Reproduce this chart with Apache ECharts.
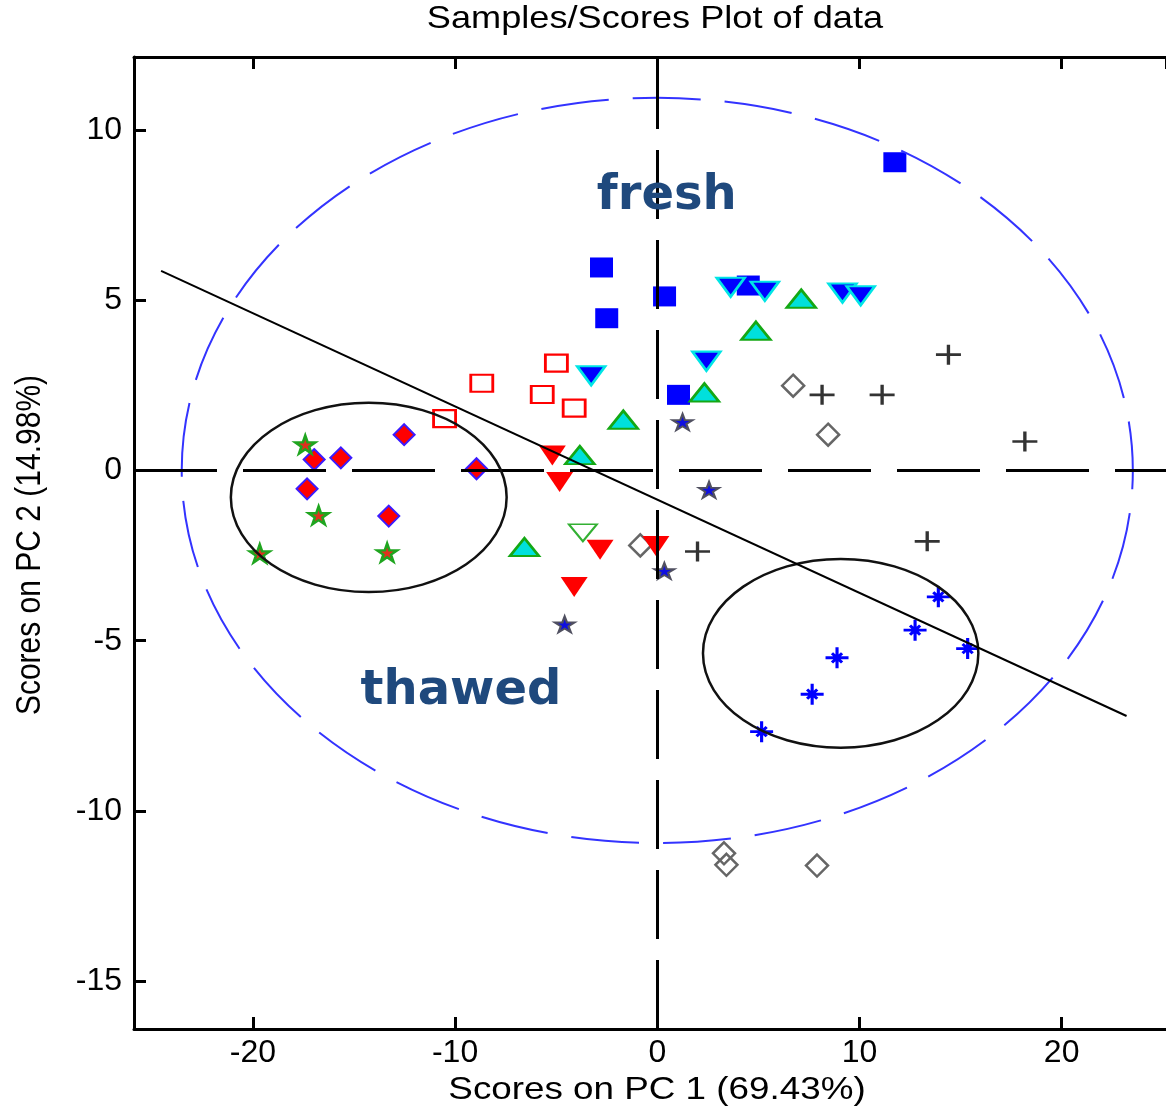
<!DOCTYPE html>
<html>
<head>
<meta charset="utf-8">
<title>Samples/Scores Plot of data</title>
<script src="https://cdn.jsdelivr.net/npm/echarts@6.0.0/dist/echarts.min.js"></script>
<style>
  html, body { margin: 0; padding: 0; background: #fff; }
  #chart { width: 1166px; height: 1108px; }
</style>
</head>
<body>
<div id="chart"></div>
<script>
// axis extents (PC1 / PC2 scores)
var xRange = [-25.88, 25.16];
var yRange = [-16.40, 12.14];

// sample scores, one array per marker group [PC1, PC2]
var redDiamonds = [[-12.52, 1.05], [-16.97, 0.32], [-15.65, 0.37], [-8.94, 0.05], [-17.32, -0.54], [-13.28, -1.34]];
var greenStars = [[-17.41, 0.76], [-16.75, -1.32], [-19.66, -2.44], [-13.36, -2.41]];
var redOpenSquares = [[-4.99, 3.15], [-8.68, 2.56], [-5.69, 2.23], [-4.11, 1.83], [-10.52, 1.52]];
var blueSquares = [[-2.76, 5.96], [0.36, 5.11], [-2.5, 4.47], [1.05, 2.22], [11.75, 9.05], [4.5, 5.43]];
var blueDownTriangles = [[-3.27, 2.78], [2.43, 3.21], [3.63, 5.38], [5.32, 5.26], [9.16, 5.21], [10.06, 5.13]];
var cyanUpTriangles = [[-1.68, 1.49], [2.33, 2.29], [7.12, 5.04], [4.88, 4.1], [-3.83, 0.45], [-6.57, -2.25]];
var redDownTriangles = [[-5.19, 0.44], [-4.83, -0.34], [-2.83, -2.33], [-4.11, -3.42], [-0.07, -2.22]];
var greenOpenTriangles = [[-3.68, -1.83]];
var blueStars = [[1.25, 1.42], [2.56, -0.57], [0.35, -2.95], [-4.58, -4.52]];
var grayDiamonds = [[-0.84, -2.2], [6.72, 2.49], [8.45, 1.05], [3.3, -11.24], [3.42, -11.58], [7.9, -11.6]];
var plusMarks = [[1.99, -2.38], [14.4, 3.4], [8.15, 2.22], [11.12, 2.22], [18.18, 0.85], [13.35, -2.08]];
var blueAsterisks = [[13.9, -3.71], [12.75, -4.69], [15.35, -5.23], [8.89, -5.5], [7.66, -6.57], [5.16, -7.67]];

// separating line (two end points)
var boundaryLine = [[-24.54, 5.86], [23.21, -7.21]];
// ellipses [cx, cy, rx, ry]
var confidenceEllipse = [[0, 0, 23.52, 10.94]];
var clusterEllipses = [[-14.27, -0.79, 6.82, 2.78], [9.07, -5.37, 6.81, 2.77]];
// group annotations
var labelText = ['fresh', 'thawed'];
var labelPos = [[0.47, 8.03], [-9.71, -6.48]];

var FONT = 'Liberation Sans';
var pathStar = 'path://M50,0L61.2,34.5L97.6,34.5L68.2,55.9L79.4,90.5L50,69.1L20.6,90.5L31.8,55.9L2.4,34.5L38.8,34.5Z';
var pathDown = 'path://M0,0L100,0L50,100Z';
var pathPlus = 'path://M0,50L100,50M50,0L50,100';
var pathAsterisk = 'path://M0,50L100,50M50,0L50,100M28,28L72,72M28,72L72,28';

function scatter(data, symbol, size, itemStyle) {
  itemStyle.opacity = 1;
  return {
    type: 'scatter', data: data, symbol: symbol, symbolSize: size,
    itemStyle: itemStyle, silent: true, z: 2
  };
}

function ellipseItem(style) {
  return function (params, api) {
    var c = api.coord([api.value(0), api.value(1)]);
    var s = api.size([api.value(2), api.value(3)]);
    return {
      type: 'ellipse',
      shape: { cx: c[0], cy: c[1], rx: s[0], ry: s[1] },
      style: style
    };
  };
}

function tickLabel(v) {
  return Math.abs(v % 5) < 1e-6 ? String(v) : '';
}

var axisCommon = {
  type: 'value',
  splitNumber: 5,
  axisLine: { show: true, onZero: false, lineStyle: { color: '#000', width: 3 } },
  axisTick: { show: true, inside: true, length: 12, lineStyle: { color: '#000', width: 3 } },
  splitLine: { show: false }
};

var chart = echarts.init(document.getElementById('chart'));
chart.setOption({
  animation: false,
  backgroundColor: '#fff',
  grid: { left: 134, right: -2, top: 57, bottom: 79, containLabel: false },
  xAxis: [
    Object.assign({}, axisCommon, {
      min: xRange[0], max: xRange[1], position: 'bottom',
      axisLabel: { fontSize: 32, fontFamily: FONT, color: '#000', margin: 8,
        showMinLabel: false, showMaxLabel: false, formatter: tickLabel }
    }),
    Object.assign({}, axisCommon, {
      min: xRange[0], max: xRange[1], position: 'top',
      axisLabel: { show: false }
    })
  ],
  yAxis: [
    Object.assign({}, axisCommon, {
      min: yRange[0], max: yRange[1], position: 'left',
      axisLabel: { fontSize: 32, fontFamily: FONT, color: '#000', margin: 12,
        showMinLabel: false, showMaxLabel: false, formatter: tickLabel }
    })
  ],
  graphic: [
    { type: 'text', x: 655, y: 19, scaleX: 1.13, silent: true,
      style: { text: 'Samples/Scores Plot of data', font: '32px "Liberation Sans"', fill: '#000',
        align: 'center', verticalAlign: 'middle', textAlign: 'center', textVerticalAlign: 'middle' } },
    { type: 'text', x: 657, y: 1090, scaleX: 1.15, silent: true,
      style: { text: 'Scores on PC 1 (69.43%)', font: '32px "Liberation Sans"', fill: '#000',
        align: 'center', verticalAlign: 'middle', textAlign: 'center', textVerticalAlign: 'middle' } },
    { type: 'text', x: 30, y: 545, rotation: Math.PI / 2, scaleY: 1.15, silent: true,
      style: { text: 'Scores on PC 2 (14.98%)', font: '30px "Liberation Sans"', fill: '#000',
        align: 'center', verticalAlign: 'middle', textAlign: 'center', textVerticalAlign: 'middle' } }
  ],
  series: [
    scatter(blueSquares, 'rect', [23, 20], { color: '#0000ff' }),
    scatter(redOpenSquares, 'rect', [22, 17], { color: 'rgba(0,0,0,0)', borderColor: '#ff0000', borderWidth: 2.5 }),
    scatter(redDiamonds, 'diamond', [21, 21], { color: '#ff0000', borderColor: '#3b1bff', borderWidth: 2 }),
    scatter(greenStars, pathStar, [20, 18], { color: '#e0301e', borderColor: '#1fa51f', borderWidth: 2.5 }),
    scatter(grayDiamonds, 'diamond', [22, 22], { color: 'rgba(0,0,0,0)', borderColor: '#666666', borderWidth: 2.5 }),
    scatter(redDownTriangles, pathDown, [27, 20], { color: '#ff0000' }),
    scatter(greenOpenTriangles, pathDown, [28, 17], { color: 'rgba(0,0,0,0)', borderColor: '#33b033', borderWidth: 2 }),
    scatter(cyanUpTriangles, 'triangle', [29, 18], { color: '#00e0dc', borderColor: '#14a814', borderWidth: 2.5 }),
    scatter(blueDownTriangles, pathDown, [28, 19], { color: '#0000ff', borderColor: '#00e5e5', borderWidth: 2.5 }),
    scatter(blueStars, pathStar, [20, 16], { color: '#1010e0', borderColor: '#505060', borderWidth: 2 }),
    scatter(plusMarks, pathPlus, [25, 20], { color: 'rgba(0,0,0,0)', borderColor: '#333333', borderWidth: 3 }),
    scatter(blueAsterisks, pathAsterisk, [23, 21], { color: 'rgba(0,0,0,0)', borderColor: '#0000ff', borderWidth: 3 }),
    {
      type: 'line', data: boundaryLine, symbol: 'none', silent: true, z: 5,
      lineStyle: { color: '#000', width: 2 },
      markLine: {
        silent: true, symbol: 'none', label: { show: false }, z: 5,
        lineStyle: { color: '#000', width: 3 },
        data: [
          { xAxis: 0, lineStyle: { color: '#000', width: 3, type: [69, 21] } },
          { yAxis: 0, lineStyle: { color: '#000', width: 3, type: [83, 26] } }
        ]
      }
    },
    {
      type: 'custom', coordinateSystem: 'cartesian2d', data: confidenceEllipse, silent: true, z: 4,
      renderItem: ellipseItem({ fill: 'none', stroke: '#3333ff', lineWidth: 2, lineDash: [68, 24] })
    },
    {
      type: 'custom', coordinateSystem: 'cartesian2d', data: clusterEllipses, silent: true, z: 5,
      renderItem: ellipseItem({ fill: 'none', stroke: '#111', lineWidth: 2.5 })
    },
    {
      type: 'custom', coordinateSystem: 'cartesian2d', data: labelPos, silent: true, z: 6,
      renderItem: function (params, api) {
        var p = api.coord([api.value(0), api.value(1)]);
        return {
          type: 'text', x: p[0], y: p[1],
          style: { text: labelText[params.dataIndex], font: 'bold 48px "DejaVu Sans"', fill: '#1f497d',
            align: 'center', verticalAlign: 'middle', textAlign: 'center', textVerticalAlign: 'middle' }
        };
      }
    }
  ]
});
</script>
</body>
</html>
